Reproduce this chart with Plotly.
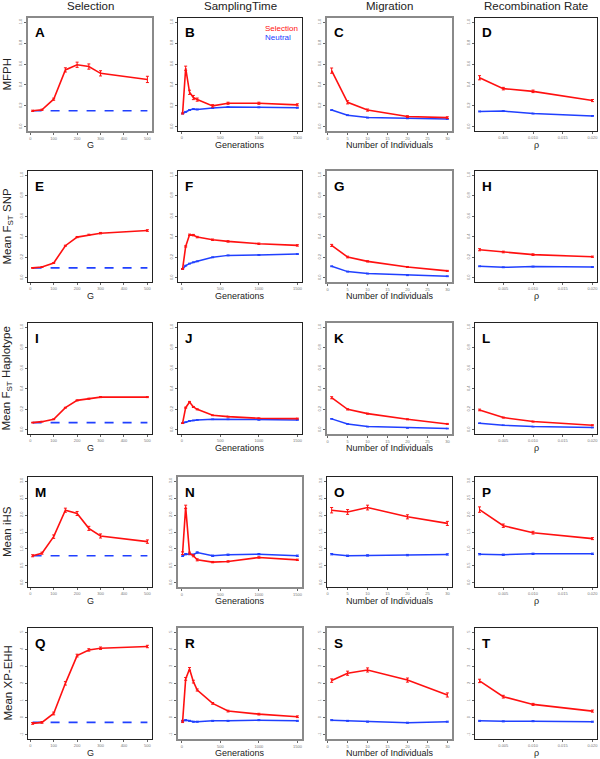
import plotly.graph_objects as go

# ---------------- x values ----------------
G_VALUES = [10, 50, 100, 150, 200, 250, 300, 500]
GENERATIONS = [10, 50, 100, 150, 200, 400, 600, 1000, 1500]
INDIVIDUALS = [1, 5, 10, 20, 30]
RHO = [0.001, 0.005, 0.010, 0.020]

COLUMN_TITLES = ["Selection", "SamplingTime", "Migration", "Recombination Rate"]
X_TITLES = ["G", "Generations", "Number of Individuals", "ρ"]
ROW_TITLES = ["MFPH", "Mean F<sub>ST</sub> SNP", "Mean F<sub>ST</sub> Haplotype",
              "Mean iHS", "Mean XP-EHH"]
PANEL_LETTERS = list("ABCDEFGHIJKLMNOPQRST")

# x ticks per column
X_TICKS = [[0, 100, 200, 300, 400, 500],
           [0, 500, 1000, 1500],
           [0, 5, 10, 15, 20, 25, 30],
           [0.005, 0.010, 0.015, 0.020]]
X_TICKTEXT = [["0", "100", "200", "300", "400", "500"],
              ["0", "500", "1000", "1500"],
              ["0", "5", "10", "15", "20", "25", "30"],
              ["0.005", "0.010", "0.015", "0.020"]]
# y ticks per row
Y_TICKS = [[0, 0.2, 0.4, 0.6, 0.8, 1.0],
           [0, 0.2, 0.4, 0.6, 0.8, 1.0],
           [0, 0.2, 0.4, 0.6, 0.8, 1.0],
           [0, 0.5, 1.0, 1.5, 2.0, 2.5, 3.0],
           [-1, 0, 1, 2, 3, 4, 5]]
Y_TICKTEXT = [["0.0", "0.2", "0.4", "0.6", "0.8", "1.0"],
              ["0.0", "0.2", "0.4", "0.6", "0.8", "1.0"],
              ["0.0", "0.2", "0.4", "0.6", "0.8", "1.0"],
              ["0.0", "0.5", "1.0", "1.5", "2.0", "2.5", "3.0"],
              ["-1", "0", "1", "2", "3", "4", "5"]]

# ---------------- Row 1: MFPH ----------------
A_sel = [0.153, 0.163, 0.264, 0.544, 0.593, 0.576, 0.511, 0.453]
A_sel_err = [0.006, 0.006, 0.01, 0.02, 0.025, 0.025, 0.025, 0.03]
A_neu = [0.153, 0.153]
B_sel = [0.127, 0.56, 0.33, 0.28, 0.26, 0.20, 0.225, 0.225, 0.21]
B_sel_err = [0.005, 0.02, 0.02, 0.02, 0.015, 0.012, 0.01, 0.01, 0.01]
B_neu = [0.127, 0.143, 0.16, 0.169, 0.166, 0.179, 0.189, 0.186, 0.182]
C_sel = [0.537, 0.234, 0.16, 0.098, 0.088]
C_sel_err = [0.025, 0.015, 0.01, 0.008, 0.008]
C_neu = [0.16, 0.111, 0.088, 0.081, 0.075]
D_sel = [0.469, 0.365, 0.339, 0.251]
D_sel_err = [0.02, 0.012, 0.012, 0.01]
D_neu = [0.147, 0.15, 0.127, 0.104]

# ---------------- Row 2: Mean FST SNP ----------------
E_sel = [0.097, 0.106, 0.145, 0.313, 0.397, 0.419, 0.435, 0.461]
E_sel_err = [0.004, 0.004, 0.004, 0.005, 0.006, 0.006, 0.007, 0.008]
E_neu = [0.097, 0.097]
F_sel = [0.087, 0.306, 0.419, 0.416, 0.397, 0.371, 0.355, 0.332, 0.316]
F_sel_err = [0.004, 0.006, 0.007, 0.007, 0.007, 0.007, 0.007, 0.007, 0.007]
F_neu = [0.087, 0.119, 0.139, 0.152, 0.161, 0.2, 0.219, 0.223, 0.232]
G_sel = [0.316, 0.203, 0.161, 0.106, 0.068]
G_sel_err = [0.01, 0.008, 0.006, 0.005, 0.005]
G_neu = [0.113, 0.061, 0.042, 0.026, 0.016]
H_sel = [0.274, 0.252, 0.226, 0.206]
H_sel_err = [0.01, 0.008, 0.008, 0.006]
H_neu = [0.113, 0.103, 0.11, 0.106]

# ---------------- Row 3: Mean FST Haplotype ----------------
I_sel = [0.071, 0.08, 0.103, 0.216, 0.287, 0.303, 0.319, 0.319]
I_sel_err = [0.003, 0.003, 0.004, 0.004, 0.005, 0.005, 0.005, 0.005]
I_neu = [0.071, 0.071]
J_sel = [0.065, 0.216, 0.271, 0.223, 0.2, 0.142, 0.129, 0.113, 0.11]
J_sel_err = [0.003, 0.005, 0.006, 0.005, 0.005, 0.004, 0.004, 0.004, 0.004]
J_neu = [0.065, 0.075, 0.087, 0.092, 0.097, 0.103, 0.103, 0.097, 0.097]
K_sel = [0.313, 0.2, 0.158, 0.103, 0.058]
K_sel_err = [0.01, 0.006, 0.005, 0.005, 0.005]
K_neu = [0.107, 0.058, 0.032, 0.019, 0.013]
L_sel = [0.194, 0.12, 0.081, 0.045]
L_sel_err = [0.008, 0.005, 0.005, 0.005]
L_neu = [0.065, 0.045, 0.032, 0.023]

# ---------------- Row 4: Mean iHS ----------------
M_sel = [0.80, 0.876, 1.363, 2.142, 2.045, 1.607, 1.383, 1.217]
M_sel_err = [0.03, 0.03, 0.05, 0.06, 0.06, 0.06, 0.06, 0.05]
M_neu = [0.80, 0.80]
N_sel = [0.876, 2.24, 0.876, 0.80, 0.68, 0.613, 0.633, 0.75, 0.68]
N_sel_err = [0.04, 0.05, 0.03, 0.03, 0.03, 0.02, 0.02, 0.02, 0.02]
N_neu = [0.80, 0.847, 0.85, 0.83, 0.896, 0.80, 0.83, 0.847, 0.80]
O_sel = [2.142, 2.09, 2.22, 1.947, 1.753]
O_sel_err = [0.08, 0.07, 0.07, 0.06, 0.06]
O_neu = [0.847, 0.80, 0.81, 0.82, 0.84]
P_sel = [2.16, 1.685, 1.48, 1.305]
P_sel_err = [0.08, 0.05, 0.04, 0.03]
P_neu = [0.847, 0.83, 0.857, 0.857]

# ---------------- Row 5: Mean XP-EHH ----------------
Q_sel = [-0.33, -0.27, 0.25, 2.01, 3.63, 3.96, 4.06, 4.16]
Q_sel_err = [0.05, 0.05, 0.08, 0.1, 0.08, 0.07, 0.07, 0.07]
Q_neu = [-0.27, -0.27]
R_sel = [-0.23, 2.27, 2.85, 2.11, 1.62, 0.84, 0.39, 0.21, 0.06]
R_sel_err = [0.05, 0.08, 0.08, 0.08, 0.06, 0.05, 0.05, 0.05, 0.05]
R_neu = [-0.18, -0.14, -0.18, -0.23, -0.23, -0.18, -0.18, -0.14, -0.18]
S_sel = [2.17, 2.6, 2.79, 2.2, 1.33]
S_sel_err = [0.1, 0.12, 0.12, 0.12, 0.12]
S_neu = [-0.14, -0.18, -0.23, -0.29, -0.23]
T_sel = [2.15, 1.23, 0.78, 0.39]
T_sel_err = [0.1, 0.08, 0.06, 0.06]
T_neu = [-0.18, -0.21, -0.2, -0.23]

NEU_ERR = [0.004, 0.004, 0.003, 0.02, 0.03]  # small neutral error bars per row

X_BY_COL = [G_VALUES, GENERATIONS, INDIVIDUALS, RHO]
SEL = [[A_sel, B_sel, C_sel, D_sel], [E_sel, F_sel, G_sel, H_sel],
       [I_sel, J_sel, K_sel, L_sel], [M_sel, N_sel, O_sel, P_sel],
       [Q_sel, R_sel, S_sel, T_sel]]
SEL_ERR = [[A_sel_err, B_sel_err, C_sel_err, D_sel_err],
           [E_sel_err, F_sel_err, G_sel_err, H_sel_err],
           [I_sel_err, J_sel_err, K_sel_err, L_sel_err],
           [M_sel_err, N_sel_err, O_sel_err, P_sel_err],
           [Q_sel_err, R_sel_err, S_sel_err, T_sel_err]]
NEU = [[A_neu, B_neu, C_neu, D_neu], [E_neu, F_neu, G_neu, H_neu],
       [I_neu, J_neu, K_neu, L_neu], [M_neu, N_neu, O_neu, P_neu],
       [Q_neu, R_neu, S_neu, T_neu]]

# ---------------- layout geometry (pixels) ----------------
W, H = 600, 759
COL_PX = [(28, 152), (178, 302), (327, 452), (475, 597)]
ROW_PX = [(18, 131), (171, 282), (323, 434), (477, 587), (628, 739)]
X_RANGES = [[-9.6, 519.6], [-49.6, 1559.6], [-0.16, 31.16], [0.00024, 0.02076]]
Y_RANGES = [[-0.04, 1.04], [-0.04, 1.04], [-0.04, 1.04], [-0.12, 3.12], [-1.24, 5.24]]
GRAY_FRAME = set("ACGKNRS")

RED = "#FF1010"
BLUE = "#2040FF"
FONT = "Liberation Sans, Arial, sans-serif"

fig = go.Figure()
layout = dict(width=W, height=H, margin=dict(l=0, r=0, t=0, b=0),
              plot_bgcolor="white", paper_bgcolor="white", showlegend=False)
annotations = []

for r in range(5):
    for c in range(4):
        k = r * 4 + c + 1
        xs = X_BY_COL[c]
        sx = "" if k == 1 else str(k)
        xref, yref = "x" + sx, "y" + sx
        letter = PANEL_LETTERS[k - 1]
        # neutral
        if c == 0:
            fig.add_trace(go.Scatter(x=[xs[0], xs[-1]], y=NEU[r][c], mode="lines",
                                     line=dict(color=BLUE, width=1.6, dash="dash"),
                                     xaxis=xref, yaxis=yref))
        else:
            fig.add_trace(go.Scatter(x=xs, y=NEU[r][c], mode="lines",
                                     line=dict(color=BLUE, width=1.5),
                                     error_y=dict(type="constant", value=NEU_ERR[r],
                                                  color=BLUE, thickness=1, width=1.5),
                                     xaxis=xref, yaxis=yref))
        # selection
        fig.add_trace(go.Scatter(x=xs, y=SEL[r][c], mode="lines",
                                 line=dict(color=RED, width=1.6),
                                 error_y=dict(type="data", array=SEL_ERR[r][c],
                                              color=RED, thickness=1, width=1.5),
                                 xaxis=xref, yaxis=yref))
        x0, x1 = COL_PX[c]
        y0, y1 = ROW_PX[r]
        gray = letter in GRAY_FRAME
        frame_col = "#8a8a8a" if gray else "#222222"
        frame_w = 2 if gray else 1
        layout["xaxis" + sx] = dict(
            domain=[x0 / W, x1 / W], range=X_RANGES[c], anchor=yref,
            showgrid=False, zeroline=False, showline=True, mirror=True,
            linecolor=frame_col, linewidth=frame_w,
            ticks="outside", ticklen=2, tickcolor="#666", tickwidth=1,
            tickvals=X_TICKS[c], ticktext=X_TICKTEXT[c],
            tickfont=dict(size=4, color="#777", family=FONT))
        layout["yaxis" + sx] = dict(
            domain=[1 - y1 / H, 1 - y0 / H], range=Y_RANGES[r], anchor=xref,
            showgrid=False, zeroline=False, showline=True, mirror=True,
            linecolor=frame_col, linewidth=frame_w,
            ticks="outside", ticklen=2, tickcolor="#666", tickwidth=1,
            tickvals=Y_TICKS[r], ticktext=Y_TICKTEXT[r], tickangle=-90,
            tickfont=dict(size=4, color="#777", family=FONT))
        # panel letter
        annotations.append(dict(text="<b>%s</b>" % letter, xref="paper", yref="paper",
                                x=(x0 + 5) / W, y=1 - (y0 + 15) / H,
                                xanchor="left", yanchor="middle", showarrow=False,
                                font=dict(size=13.5, color="black", family=FONT)))
        # x-axis title
        annotations.append(dict(text=X_TITLES[c], xref="paper", yref="paper",
                                x=(x0 + x1) / 2 / W, y=1 - (y1 + 14) / H,
                                xanchor="center", yanchor="middle", showarrow=False,
                                font=dict(size=9, color="#222", family=FONT)))

# column titles
for c in range(4):
    x0, x1 = COL_PX[c]
    annotations.append(dict(text=COLUMN_TITLES[c], xref="paper", yref="paper",
                            x=(x0 + x1) / 2 / W, y=1 - 6.5 / H,
                            xanchor="center", yanchor="middle", showarrow=False,
                            font=dict(size=11.5, color="#222", family=FONT)))
# row titles
for r in range(5):
    y0, y1 = ROW_PX[r]
    annotations.append(dict(text=ROW_TITLES[r], xref="paper", yref="paper",
                            x=7 / W, y=1 - (y0 + y1) / 2 / H, textangle=-90,
                            xanchor="center", yanchor="middle", showarrow=False,
                            font=dict(size=11.5, color="#222", family=FONT)))
# legend in panel B
annotations.append(dict(text="Selection", xref="paper", yref="paper",
                        x=263 / W, y=1 - 28.3 / H, xanchor="left", yanchor="middle",
                        showarrow=False, font=dict(size=8, color=RED, family=FONT)))
annotations.append(dict(text="Neutral", xref="paper", yref="paper",
                        x=263 / W, y=1 - 37.7 / H, xanchor="left", yanchor="middle",
                        showarrow=False, font=dict(size=8, color=BLUE, family=FONT)))

layout["annotations"] = annotations
fig.update_layout(**layout)
fig.write_html("out.html", config={"displayModeBar": False},
               post_script="document.body.style.margin='0';document.body.style.overflow='hidden';")
